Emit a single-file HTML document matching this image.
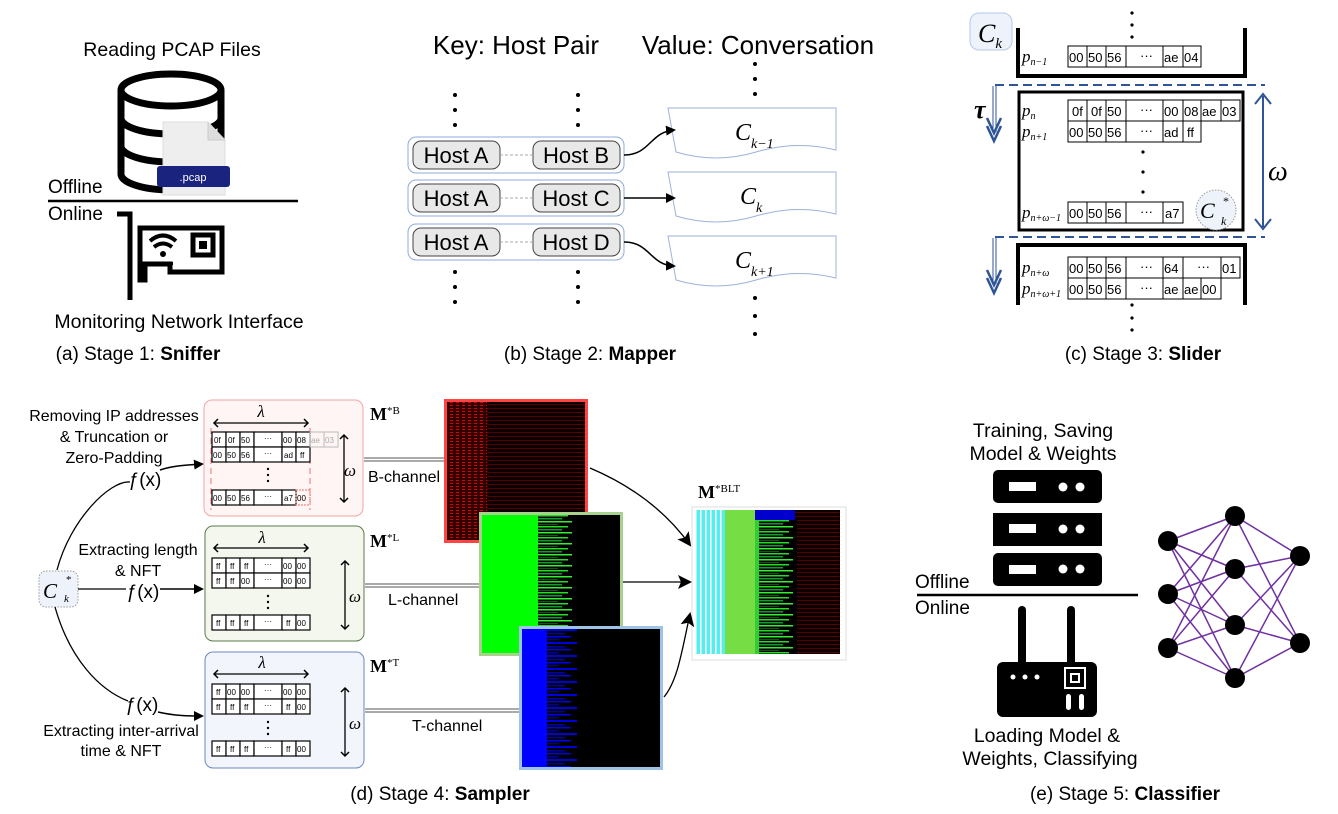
<!DOCTYPE html>
<html><head><meta charset="utf-8"><style>
html,body{margin:0;padding:0;background:#fff}
svg{display:block;font-family:"Liberation Sans",sans-serif}
.m{font-family:"Liberation Serif",serif}
</style></head><body>
<svg width="1338" height="814" viewBox="0 0 1338 814" xmlns="http://www.w3.org/2000/svg">
<defs>
<marker id="ah" markerWidth="10" markerHeight="10" refX="8" refY="5" orient="auto" markerUnits="userSpaceOnUse"><path d="M0,0 L10,5 L0,10 z" fill="#000"/></marker>
<marker id="ah2" markerWidth="14" markerHeight="14" refX="12" refY="7" orient="auto" markerUnits="userSpaceOnUse"><path d="M0,0 L14,7 L0,14 L3,7 z" fill="#000"/></marker>
<marker id="sa" markerWidth="10" markerHeight="10" refX="5" refY="5" orient="auto" markerUnits="userSpaceOnUse"><path d="M1,1 L5,5 L1,9" fill="none" stroke="#000" stroke-width="1.5"/></marker>
<marker id="sb" markerWidth="10" markerHeight="10" refX="5" refY="5" orient="auto-start-reverse" markerUnits="userSpaceOnUse"><path d="M1,1 L5,5 L1,9" fill="none" stroke="#000" stroke-width="1.5"/></marker>
<pattern id="pr" width="6" height="3" patternUnits="userSpaceOnUse"><rect width="6" height="3" fill="#300"/><rect width="3" height="1" fill="#d00"/></pattern>
<pattern id="pr2" width="400" height="4" patternUnits="userSpaceOnUse"><rect width="400" height="4" fill="#0c0000"/><rect x="0" width="400" height="1" fill="#500"/></pattern>
<pattern id="pg" x="538" y="515" width="300" height="11" patternUnits="userSpaceOnUse"><rect width="300" height="11" fill="#000"/><rect width="30" height="1.5" fill="#2d2"/><rect y="3" width="24" height="1.5" fill="#193"/><rect y="6" width="34" height="1.5" fill="#3e3"/><rect y="9" width="20" height="1" fill="#151"/></pattern>
<pattern id="pg2" x="759" y="520" width="300" height="11" patternUnits="userSpaceOnUse"><rect width="300" height="11" fill="#000"/><rect width="30" height="1.5" fill="#2d2"/><rect y="3" width="24" height="1.5" fill="#193"/><rect y="6" width="34" height="1.5" fill="#3e3"/><rect y="9" width="20" height="1" fill="#151"/></pattern>
<pattern id="pb" x="547" y="629" width="300" height="13" patternUnits="userSpaceOnUse"><rect width="300" height="13" fill="#000"/><rect width="30" height="2" fill="#00d"/><rect y="4" width="18" height="1.5" fill="#00a"/><rect y="7" width="24" height="1.5" fill="#00e"/><rect y="10" width="12" height="1.5" fill="#008"/></pattern>
<pattern id="pc" width="5" height="4" patternUnits="userSpaceOnUse"><rect width="5" height="4" fill="#5ee"/><rect width="1.5" height="4" fill="#fff"/></pattern>
</defs>

<!-- ===== Stage 1 ===== -->
<text x="172" y="56" font-size="19.5" text-anchor="middle">Reading PCAP Files</text>
<g fill="none" stroke="#000" stroke-width="7">
<ellipse cx="171" cy="90" rx="50" ry="16"/>
<path d="M121,90 V174 A50,16 0 0 0 221,174 V90"/>
<path d="M121,118 A50,16 0 0 0 221,118"/>
<path d="M121,146 A50,16 0 0 0 221,146"/>
</g>
<path d="M163,122 H208 L225,140 V195 H163 Z" fill="#eee" stroke="#ddd"/>
<path d="M208,122 V140 H225" fill="#ddd" stroke="#ccc"/>
<rect x="157" y="166" width="73" height="21" rx="3" fill="#1a237e"/>
<text x="193" y="181" font-size="11" fill="#fff" text-anchor="middle">.pcap</text>
<text x="48" y="193" font-size="19">Offline</text>
<line x1="48" y1="201" x2="298" y2="201" stroke="#000" stroke-width="2.5"/>
<text x="48" y="220" font-size="19">Online</text>
<g fill="none" stroke="#000" stroke-width="5">
<path d="M117,214 H130 V300"/>
<path d="M140,228 H222 V272 H170 V264 H145 V280 H140 Z"/>
<rect x="193" y="235" width="20" height="20"/>
</g>
<path d="M150,241 Q163,230 176,241 M154,247 Q163,240 172,247" fill="none" stroke="#000" stroke-width="4"/>
<circle cx="163" cy="254" r="3"/>
<rect x="155" y="262" width="18" height="3"/>
<rect x="199" y="241" width="8" height="8"/>
<text x="179" y="328" font-size="19.5" text-anchor="middle">Monitoring Network Interface</text>
<text x="138" y="360" font-size="19" text-anchor="middle">(a) Stage 1: <tspan font-weight="bold">Sniffer</tspan></text>

<!-- ===== Stage 2 ===== -->
<text x="516" y="54" font-size="26" text-anchor="middle">Key: Host Pair</text>
<text x="758" y="54" font-size="26" text-anchor="middle">Value: Conversation</text>
<g fill="#000">
<circle cx="455" cy="95" r="2"/><circle cx="455" cy="110" r="2"/><circle cx="455" cy="125" r="2"/>
<circle cx="578" cy="95" r="2"/><circle cx="578" cy="110" r="2"/><circle cx="578" cy="125" r="2"/>
<circle cx="455" cy="272" r="2"/><circle cx="455" cy="287" r="2"/><circle cx="455" cy="302" r="2"/>
<circle cx="578" cy="272" r="2"/><circle cx="578" cy="287" r="2"/><circle cx="578" cy="302" r="2"/>
<circle cx="755" cy="64" r="2"/><circle cx="755" cy="79" r="2"/><circle cx="755" cy="94" r="2"/>
<circle cx="755" cy="298" r="2"/><circle cx="755" cy="316" r="2"/><circle cx="755" cy="334" r="2"/>
</g>
<g>
<rect x="408" y="137" width="216" height="36" rx="8" fill="#fff" stroke="#8eaadb"/>
<rect x="413" y="141" width="87" height="28" rx="8" fill="#e8e8e8" stroke="#444"/>
<rect x="533" y="141" width="87" height="28" rx="8" fill="#e8e8e8" stroke="#444"/>
<line x1="500" y1="155" x2="533" y2="155" stroke="#aaa" stroke-dasharray="3,2"/>
<text x="456" y="163" font-size="22" text-anchor="middle">Host A</text><text x="576" y="163" font-size="22" text-anchor="middle">Host B</text>
<rect x="408" y="180" width="216" height="36" rx="8" fill="#fff" stroke="#8eaadb"/>
<rect x="413" y="184" width="87" height="28" rx="8" fill="#e8e8e8" stroke="#444"/>
<rect x="533" y="184" width="87" height="28" rx="8" fill="#e8e8e8" stroke="#444"/>
<line x1="500" y1="198" x2="533" y2="198" stroke="#aaa" stroke-dasharray="3,2"/>
<text x="456" y="206" font-size="22" text-anchor="middle">Host A</text><text x="576" y="206" font-size="22" text-anchor="middle">Host C</text>
<rect x="408" y="224" width="216" height="36" rx="8" fill="#fff" stroke="#8eaadb"/>
<rect x="413" y="228" width="87" height="28" rx="8" fill="#e8e8e8" stroke="#444"/>
<rect x="533" y="228" width="87" height="28" rx="8" fill="#e8e8e8" stroke="#444"/>
<line x1="500" y1="242" x2="533" y2="242" stroke="#aaa" stroke-dasharray="3,2"/>
<text x="456" y="250" font-size="22" text-anchor="middle">Host A</text><text x="576" y="250" font-size="22" text-anchor="middle">Host D</text>
</g>
<g fill="#fff" stroke="#9db3d9">
<path d="M668,108 H836 V150 Q796,140 756,152 Q716,164 676,152 Z"/>
<path d="M668,172 H836 V214 Q796,204 756,216 Q716,228 676,216 Z"/>
<path d="M668,236 H836 V278 Q796,268 756,280 Q716,292 676,280 Z"/>
</g>
<g class="m" font-style="italic">
<text x="735" y="140" font-size="24">C<tspan font-size="14" dy="8">k−1</tspan></text>
<text x="740" y="204" font-size="24">C<tspan font-size="14" dy="8">k</tspan></text>
<text x="735" y="268" font-size="24">C<tspan font-size="14" dy="8">k+1</tspan></text>
</g>
<path d="M624,155 C650,155 650,132 674,130" fill="none" stroke="#000" stroke-width="1.5" marker-end="url(#ah)"/>
<line x1="624" y1="198" x2="674" y2="198" stroke="#000" stroke-width="1.5" marker-end="url(#ah)"/>
<path d="M624,242 C650,242 650,265 674,266" fill="none" stroke="#000" stroke-width="1.5" marker-end="url(#ah)"/>
<text x="590" y="360" font-size="19" text-anchor="middle">(b) Stage 2: <tspan font-weight="bold">Mapper</tspan></text>

<!-- ===== Stage 3 ===== -->
<rect x="970" y="13" width="42" height="37" rx="9" fill="#eef3fb" stroke="#b4c7e7"/>
<text x="978" y="42" font-size="26" class="m" font-style="italic">C<tspan font-size="15" dy="6">k</tspan></text>
<g fill="#000"><circle cx="1132" cy="13" r="1.6"/><circle cx="1132" cy="25" r="1.6"/><circle cx="1132" cy="37" r="1.6"/>
<circle cx="1143" cy="152" r="1.6"/><circle cx="1143" cy="172" r="1.6"/><circle cx="1143" cy="192" r="1.6"/>
<circle cx="1132" cy="305" r="1.6"/><circle cx="1132" cy="318" r="1.6"/><circle cx="1132" cy="330" r="1.6"/></g>
<path d="M1018,28 V76 H1245 V28" fill="none" stroke="#000" stroke-width="4"/>
<rect x="1019" y="92" width="224" height="138" fill="none" stroke="#000" stroke-width="3"/>
<path d="M1018,305 V245 H1245 V305" fill="none" stroke="#000" stroke-width="4"/>
<line x1="995" y1="85" x2="1265" y2="85" stroke="#2f5597" stroke-width="2" stroke-dasharray="9,5"/>
<line x1="995" y1="237" x2="1265" y2="237" stroke="#2f5597" stroke-width="2" stroke-dasharray="9,5"/>
<path d="M993,86 V132 M996,86 V132" stroke="#2f5597" stroke-width="1"/>
<path d="M987,118 L994,133 L1001,118 M987,126 L994,141 L1001,126" fill="none" stroke="#2f5597" stroke-width="2.5"/>
<path d="M993,238 V284 M996,238 V284" stroke="#2f5597" stroke-width="1"/>
<path d="M987,270 L994,285 L1001,270 M987,278 L994,293 L1001,278" fill="none" stroke="#2f5597" stroke-width="2.5"/>
<text x="974" y="118" font-size="26" class="m" font-style="italic" font-weight="bold">τ</text>
<line x1="1263" y1="96" x2="1263" y2="227" stroke="#2f5597" stroke-width="2"/>
<path d="M1255,104 L1263,94 L1271,104 M1255,219 L1263,229 L1271,219" fill="none" stroke="#2f5597" stroke-width="2"/>
<text x="1268" y="180" font-size="28" class="m" font-style="italic">ω</text>
<g stroke="#000" fill="#fff" stroke-width="1">
<rect x="1068" y="46" width="19" height="21"/><rect x="1087" y="46" width="19" height="21"/><rect x="1106" y="46" width="20" height="21"/><rect x="1126" y="46" width="37" height="21"/><rect x="1163" y="46" width="20" height="21"/><rect x="1183" y="46" width="18" height="21"/>
<rect x="1068" y="100" width="19" height="21"/><rect x="1087" y="100" width="19" height="21"/><rect x="1106" y="100" width="20" height="21"/><rect x="1126" y="100" width="37" height="21"/><rect x="1163" y="100" width="20" height="21"/><rect x="1183" y="100" width="18" height="21"/><rect x="1201" y="100" width="20" height="21"/><rect x="1221" y="100" width="19" height="21"/>
<rect x="1068" y="121" width="19" height="21"/><rect x="1087" y="121" width="19" height="21"/><rect x="1106" y="121" width="20" height="21"/><rect x="1126" y="121" width="37" height="21"/><rect x="1163" y="121" width="20" height="21"/><rect x="1183" y="121" width="18" height="21"/>
<rect x="1068" y="202" width="19" height="21"/><rect x="1087" y="202" width="19" height="21"/><rect x="1106" y="202" width="20" height="21"/><rect x="1126" y="202" width="37" height="21"/><rect x="1163" y="202" width="20" height="21"/>
<rect x="1068" y="257" width="19" height="21"/><rect x="1087" y="257" width="19" height="21"/><rect x="1106" y="257" width="20" height="21"/><rect x="1126" y="257" width="37" height="21"/><rect x="1163" y="257" width="20" height="21"/><rect x="1183" y="257" width="38" height="21"/><rect x="1221" y="257" width="19" height="21"/>
<rect x="1068" y="278" width="19" height="21"/><rect x="1087" y="278" width="19" height="21"/><rect x="1106" y="278" width="20" height="21"/><rect x="1126" y="278" width="37" height="21"/><rect x="1163" y="278" width="20" height="21"/><rect x="1183" y="278" width="18" height="21"/><rect x="1201" y="278" width="20" height="21"/>
</g>
<g font-size="13">
<text x="1069" y="62">00</text><text x="1088" y="62">50</text><text x="1107" y="62">56</text><text x="1140" y="60">···</text><text x="1164" y="62">ae</text><text x="1184" y="62">04</text>
<text x="1072" y="116">0f</text><text x="1091" y="116">0f</text><text x="1107" y="116">50</text><text x="1140" y="114">···</text><text x="1164" y="116">00</text><text x="1184" y="116">08</text><text x="1202" y="116">ae</text><text x="1222" y="116">03</text>
<text x="1069" y="137">00</text><text x="1088" y="137">50</text><text x="1107" y="137">56</text><text x="1140" y="135">···</text><text x="1164" y="137">ad</text><text x="1187" y="137">ff</text>
<text x="1069" y="218">00</text><text x="1088" y="218">50</text><text x="1107" y="218">56</text><text x="1140" y="216">···</text><text x="1165" y="218">a7</text>
<text x="1069" y="273">00</text><text x="1088" y="273">50</text><text x="1107" y="273">56</text><text x="1140" y="271">···</text><text x="1164" y="273">64</text><text x="1197" y="271">···</text><text x="1222" y="273">01</text>
<text x="1069" y="294">00</text><text x="1088" y="294">50</text><text x="1107" y="294">56</text><text x="1140" y="292">···</text><text x="1164" y="294">ae</text><text x="1184" y="294">ae</text><text x="1202" y="294">00</text>
</g>
<g class="m" font-style="italic" font-size="17">
<text x="1022" y="62">p<tspan font-size="10" dy="3">n−1</tspan></text>
<text x="1022" y="116">p<tspan font-size="10" dy="3">n</tspan></text>
<text x="1022" y="137">p<tspan font-size="10" dy="3">n+1</tspan></text>
<text x="1022" y="218">p<tspan font-size="10" dy="3">n+ω−1</tspan></text>
<text x="1022" y="273">p<tspan font-size="10" dy="3">n+ω</tspan></text>
<text x="1022" y="294">p<tspan font-size="10" dy="3">n+ω+1</tspan></text>
</g>
<circle cx="1216" cy="210" r="20" fill="#eef3fb" stroke="#999" stroke-dasharray="1.5,1.5"/>
<text x="1200" y="218" font-size="22" class="m" font-style="italic">C</text>
<text x="1223" y="205" font-size="12" class="m">*</text>
<text x="1221" y="225" font-size="12" class="m" font-style="italic">k</text>
<text x="1143" y="360" font-size="19" text-anchor="middle">(c) Stage 3: <tspan font-weight="bold">Slider</tspan></text>

<!-- ===== Stage 4 ===== -->
<g font-size="16" text-anchor="middle">
<text x="114" y="421">Removing IP addresses</text><text x="114" y="442">&amp; Truncation or</text><text x="114" y="463">Zero-Padding</text>
<text x="138" y="555">Extracting length</text><text x="138" y="576">&amp; NFT</text>
<text x="121" y="736">Extracting inter-arrival</text><text x="121" y="756">time &amp; NFT</text>
</g>
<g font-size="19" text-anchor="middle">
<text x="145" y="486">ƒ(x)</text><text x="143" y="598">ƒ(x)</text><text x="142" y="711">ƒ(x)</text>
</g>
<rect x="39" y="571" width="39" height="36" rx="7" fill="#eef3fb" stroke="#999" stroke-dasharray="1.5,1.5"/>
<text x="43" y="598" font-size="21" class="m" font-style="italic">C</text>
<text x="66" y="583" font-size="11" class="m">*</text>
<text x="64" y="602" font-size="11" class="m" font-style="italic">k</text>
<path d="M57,570 C70,520 110,480 130,482" fill="none" stroke="#000" stroke-width="1.3"/>
<path d="M160,470 C175,465 190,465 202,464" fill="none" stroke="#000" stroke-width="1.5" marker-end="url(#ah)"/>
<line x1="78" y1="589" x2="126" y2="589" stroke="#000" stroke-width="1.3"/>
<line x1="160" y1="589" x2="202" y2="589" stroke="#000" stroke-width="1.5" marker-end="url(#ah)"/>
<path d="M55,607 C70,660 100,690 128,701" fill="none" stroke="#000" stroke-width="1.3"/>
<path d="M158,712 C175,716 190,716 202,716" fill="none" stroke="#000" stroke-width="1.5" marker-end="url(#ah)"/>

<rect x="204" y="400" width="159" height="116" rx="8" fill="#fff5f5" stroke="#f5a3a3"/>
<rect x="205" y="526" width="159" height="115" rx="8" fill="#f3f7ee" stroke="#5c7a4b"/>
<rect x="205" y="652" width="159" height="116" rx="8" fill="#f2f5fb" stroke="#6a87bd"/>
<g stroke="#000" stroke-width="1.3" fill="none">
<line x1="214" y1="423" x2="308" y2="423" marker-end="url(#sa)" marker-start="url(#sb)"/>
<line x1="214" y1="548" x2="308" y2="548" marker-end="url(#sa)" marker-start="url(#sb)"/>
<line x1="214" y1="674" x2="308" y2="674" marker-end="url(#sa)" marker-start="url(#sb)"/>
<line x1="344" y1="435" x2="344" y2="502" marker-end="url(#sa)" marker-start="url(#sb)"/>
<line x1="345" y1="561" x2="345" y2="629" marker-end="url(#sa)" marker-start="url(#sb)"/>
<line x1="345" y1="688" x2="345" y2="756" marker-end="url(#sa)" marker-start="url(#sb)"/>
</g>
<g font-size="17" class="m" font-style="italic" text-anchor="middle">
<text x="261" y="417">λ</text><text x="262" y="543">λ</text><text x="262" y="668">λ</text>
<text x="350" y="476">ω</text><text x="355" y="602">ω</text><text x="355" y="729">ω</text>
</g>
<line x1="211" y1="428" x2="211" y2="510" stroke="#f07070" stroke-dasharray="6,4"/>
<line x1="310" y1="428" x2="310" y2="510" stroke="#f07070" stroke-dasharray="6,4"/>
<g stroke="#000" fill="#fff" stroke-width="1.2">
<rect x="212" y="432" width="14" height="15"/><rect x="226" y="432" width="14" height="15"/><rect x="240" y="432" width="14" height="15"/><rect x="254" y="432" width="28" height="15"/><rect x="282" y="432" width="14" height="15"/><rect x="296" y="432" width="14" height="15"/>
<rect x="212" y="447" width="14" height="15"/><rect x="226" y="447" width="14" height="15"/><rect x="240" y="447" width="14" height="15"/><rect x="254" y="447" width="28" height="15"/><rect x="282" y="447" width="14" height="15"/><rect x="296" y="447" width="14" height="15"/>
<rect x="212" y="490" width="14" height="15"/><rect x="226" y="490" width="14" height="15"/><rect x="240" y="490" width="14" height="15"/><rect x="254" y="490" width="28" height="15"/><rect x="282" y="490" width="14" height="15"/>
<rect x="212" y="558" width="14" height="15"/><rect x="226" y="558" width="14" height="15"/><rect x="240" y="558" width="14" height="15"/><rect x="254" y="558" width="28" height="15"/><rect x="282" y="558" width="14" height="15"/><rect x="296" y="558" width="14" height="15"/>
<rect x="212" y="573" width="14" height="15"/><rect x="226" y="573" width="14" height="15"/><rect x="240" y="573" width="14" height="15"/><rect x="254" y="573" width="28" height="15"/><rect x="282" y="573" width="14" height="15"/><rect x="296" y="573" width="14" height="15"/>
<rect x="212" y="615" width="14" height="15"/><rect x="226" y="615" width="14" height="15"/><rect x="240" y="615" width="14" height="15"/><rect x="254" y="615" width="28" height="15"/><rect x="282" y="615" width="14" height="15"/><rect x="296" y="615" width="14" height="15"/>
<rect x="212" y="684" width="14" height="15"/><rect x="226" y="684" width="14" height="15"/><rect x="240" y="684" width="14" height="15"/><rect x="254" y="684" width="28" height="15"/><rect x="282" y="684" width="14" height="15"/><rect x="296" y="684" width="14" height="15"/>
<rect x="212" y="699" width="14" height="15"/><rect x="226" y="699" width="14" height="15"/><rect x="240" y="699" width="14" height="15"/><rect x="254" y="699" width="28" height="15"/><rect x="282" y="699" width="14" height="15"/><rect x="296" y="699" width="14" height="15"/>
<rect x="212" y="741" width="14" height="15"/><rect x="226" y="741" width="14" height="15"/><rect x="240" y="741" width="14" height="15"/><rect x="254" y="741" width="28" height="15"/><rect x="282" y="741" width="14" height="15"/><rect x="296" y="741" width="14" height="15"/>
</g>
<rect x="310" y="432" width="14" height="15" fill="none" stroke="#bbb"/><rect x="324" y="432" width="14" height="15" fill="none" stroke="#bbb"/>
<rect x="296" y="490" width="14" height="15" fill="none" stroke="#f07070" stroke-dasharray="2,1"/>
<g font-size="8">
<text x="214" y="443">0f</text><text x="228" y="443">0f</text><text x="241" y="443">50</text><text x="264" y="441">···</text><text x="283" y="443">00</text><text x="297" y="443">08</text><text x="311" y="443" fill="#aaa">ae</text><text x="325" y="443" fill="#aaa">03</text>
<text x="213" y="458">00</text><text x="227" y="458">50</text><text x="241" y="458">56</text><text x="264" y="456">···</text><text x="284" y="458">ad</text><text x="300" y="458">ff</text>
<text x="213" y="501">00</text><text x="227" y="501">50</text><text x="241" y="501">56</text><text x="264" y="499">···</text><text x="284" y="501">a7</text><text x="297" y="501">00</text>
<text x="216" y="569">ff</text><text x="230" y="569">ff</text><text x="244" y="569">ff</text><text x="264" y="567">···</text><text x="283" y="569">00</text><text x="297" y="569">00</text>
<text x="216" y="584">ff</text><text x="230" y="584">ff</text><text x="241" y="584">00</text><text x="264" y="582">···</text><text x="283" y="584">00</text><text x="297" y="584">00</text>
<text x="216" y="626">ff</text><text x="230" y="626">ff</text><text x="244" y="626">ff</text><text x="264" y="624">···</text><text x="286" y="626">ff</text><text x="297" y="626">00</text>
<text x="216" y="695">ff</text><text x="227" y="695">00</text><text x="241" y="695">00</text><text x="264" y="693">···</text><text x="283" y="695">00</text><text x="297" y="695">00</text>
<text x="216" y="710">ff</text><text x="230" y="710">ff</text><text x="244" y="710">ff</text><text x="264" y="708">···</text><text x="286" y="710">ff</text><text x="297" y="710">00</text>
<text x="216" y="752">ff</text><text x="230" y="752">ff</text><text x="244" y="752">ff</text><text x="264" y="750">···</text><text x="286" y="752">ff</text><text x="297" y="752">00</text>
</g>
<g fill="#000"><circle cx="268" cy="469" r="1.2"/><circle cx="268" cy="475" r="1.2"/><circle cx="268" cy="481" r="1.2"/>
<circle cx="268" cy="596" r="1.2"/><circle cx="268" cy="602" r="1.2"/><circle cx="268" cy="608" r="1.2"/>
<circle cx="268" cy="722" r="1.2"/><circle cx="268" cy="728" r="1.2"/><circle cx="268" cy="734" r="1.2"/></g>
<g class="m" font-weight="bold" font-size="18">
<text x="370" y="420">M<tspan font-size="11" font-weight="normal" dy="-6">*B</tspan></text>
<text x="370" y="547">M<tspan font-size="11" font-weight="normal" dy="-6">*L</tspan></text>
<text x="370" y="672">M<tspan font-size="11" font-weight="normal" dy="-6">*T</tspan></text>
<text x="698" y="498">M<tspan font-size="11" font-weight="normal" dy="-6">*BLT</tspan></text>
</g>
<g stroke="#555" stroke-width="1"><line x1="364" y1="458" x2="444" y2="458"/><line x1="364" y1="461" x2="444" y2="461"/>
<line x1="365" y1="584" x2="479" y2="584"/><line x1="365" y1="587" x2="479" y2="587"/>
<line x1="365" y1="709" x2="519" y2="709"/><line x1="365" y1="712" x2="519" y2="712"/></g>
<g font-size="16"><text x="368" y="482">B-channel</text><text x="388" y="605">L-channel</text><text x="412" y="731">T-channel</text></g>

<!-- heatmaps -->
<rect x="444" y="399" width="144" height="144" fill="#f44"/>
<rect x="447" y="402" width="138" height="138" fill="url(#pr2)"/>
<rect x="447" y="402" width="40" height="138" fill="url(#pr)"/>
<rect x="479" y="512" width="144" height="144" fill="#a9d18e"/>
<rect x="482" y="515" width="138" height="138" fill="url(#pg)"/>
<rect x="482" y="515" width="56" height="138" fill="#0f0"/>
<rect x="519" y="626" width="144" height="144" fill="#9dc3e6"/>
<rect x="522" y="629" width="138" height="138" fill="url(#pb)"/>
<rect x="522" y="629" width="25" height="138" fill="#00f"/>
<rect x="692" y="507" width="154" height="153" fill="#fff" stroke="#ddd"/>
<rect x="695" y="510" width="145" height="144" fill="url(#pr2)"/>
<rect x="695" y="510" width="30" height="144" fill="url(#pc)"/>
<rect x="725" y="510" width="30" height="144" fill="#7d4"/>
<rect x="755" y="510" width="4" height="144" fill="#3c3"/>
<rect x="759" y="520" width="38" height="134" fill="url(#pg2)"/>
<rect x="755" y="510" width="40" height="10" fill="#00c"/>
<path d="M590,468 C630,485 665,510 690,545" fill="none" stroke="#000" stroke-width="1.3" marker-end="url(#ah2)"/>
<line x1="623" y1="582" x2="690" y2="582" stroke="#000" stroke-width="1.3" marker-end="url(#ah2)"/>
<path d="M664,697 C678,680 682,650 690,614" fill="none" stroke="#000" stroke-width="1.3" marker-end="url(#ah2)"/>
<text x="440" y="800" font-size="19" text-anchor="middle">(d) Stage 4: <tspan font-weight="bold">Sampler</tspan></text>

<!-- ===== Stage 5 ===== -->
<text x="1043" y="437" font-size="19.5" text-anchor="middle">Training, Saving</text>
<text x="1043" y="460" font-size="19.5" text-anchor="middle">Model &amp; Weights</text>
<g fill="#000"><rect x="993" y="470" width="109" height="33" rx="5"/><rect x="993" y="513" width="109" height="33"/><rect x="993" y="553" width="109" height="33" rx="5"/></g>
<g fill="#fff"><rect x="1009" y="482" width="27" height="9"/><rect x="1009" y="524" width="27" height="9"/><rect x="1009" y="565" width="27" height="9"/>
<circle cx="1063" cy="487" r="4.5"/><circle cx="1080" cy="487" r="4.5"/><circle cx="1063" cy="529" r="4.5"/><circle cx="1080" cy="529" r="4.5"/><circle cx="1063" cy="569" r="4.5"/><circle cx="1080" cy="569" r="4.5"/></g>
<text x="915" y="588" font-size="19">Offline</text>
<line x1="917" y1="595" x2="1138" y2="595" stroke="#000" stroke-width="2.5"/>
<text x="915" y="614" font-size="19">Online</text>
<g fill="#000"><rect x="1018" y="606" width="8" height="60" rx="4"/><rect x="1067" y="606" width="8" height="60" rx="4"/>
<rect x="997" y="662" width="100" height="55" rx="6"/></g>
<g fill="#fff"><circle cx="1013" cy="677" r="2.5"/><circle cx="1025" cy="677" r="2.5"/><circle cx="1037" cy="677" r="2.5"/>
<rect x="1066" y="694" width="5" height="16" rx="2.5"/><rect x="1079" y="694" width="5" height="16" rx="2.5"/></g>
<rect x="1065" y="668" width="20" height="20" fill="none" stroke="#fff" stroke-width="2"/>
<rect x="1071" y="674" width="8" height="8" fill="none" stroke="#fff" stroke-width="2"/>
<text x="1047" y="742" font-size="19.5" text-anchor="middle">Loading Model &amp;</text>
<text x="1050" y="765" font-size="19.5" text-anchor="middle">Weights, Classifying</text>
<g stroke="#7030a0" stroke-width="1.5">
<path d="M1168,541 L1235,516 M1168,541 L1235,569 M1168,541 L1235,625 M1168,541 L1235,678 M1168,594 L1235,516 M1168,594 L1235,569 M1168,594 L1235,625 M1168,594 L1235,678 M1168,648 L1235,516 M1168,648 L1235,569 M1168,648 L1235,625 M1168,648 L1235,678 M1235,516 L1300,556 M1235,516 L1300,643 M1235,569 L1300,556 M1235,569 L1300,643 M1235,625 L1300,556 M1235,625 L1300,643 M1235,678 L1300,556 M1235,678 L1300,643"/>
</g>
<g fill="#000"><circle cx="1168" cy="541" r="10"/><circle cx="1168" cy="594" r="10"/><circle cx="1168" cy="648" r="10"/>
<circle cx="1235" cy="516" r="10"/><circle cx="1235" cy="569" r="10"/><circle cx="1235" cy="625" r="10"/><circle cx="1235" cy="678" r="10"/>
<circle cx="1300" cy="556" r="10"/><circle cx="1300" cy="643" r="10"/></g>
<text x="1125" y="800" font-size="19" text-anchor="middle">(e) Stage 5: <tspan font-weight="bold">Classifier</tspan></text>
</svg>
</body></html>
